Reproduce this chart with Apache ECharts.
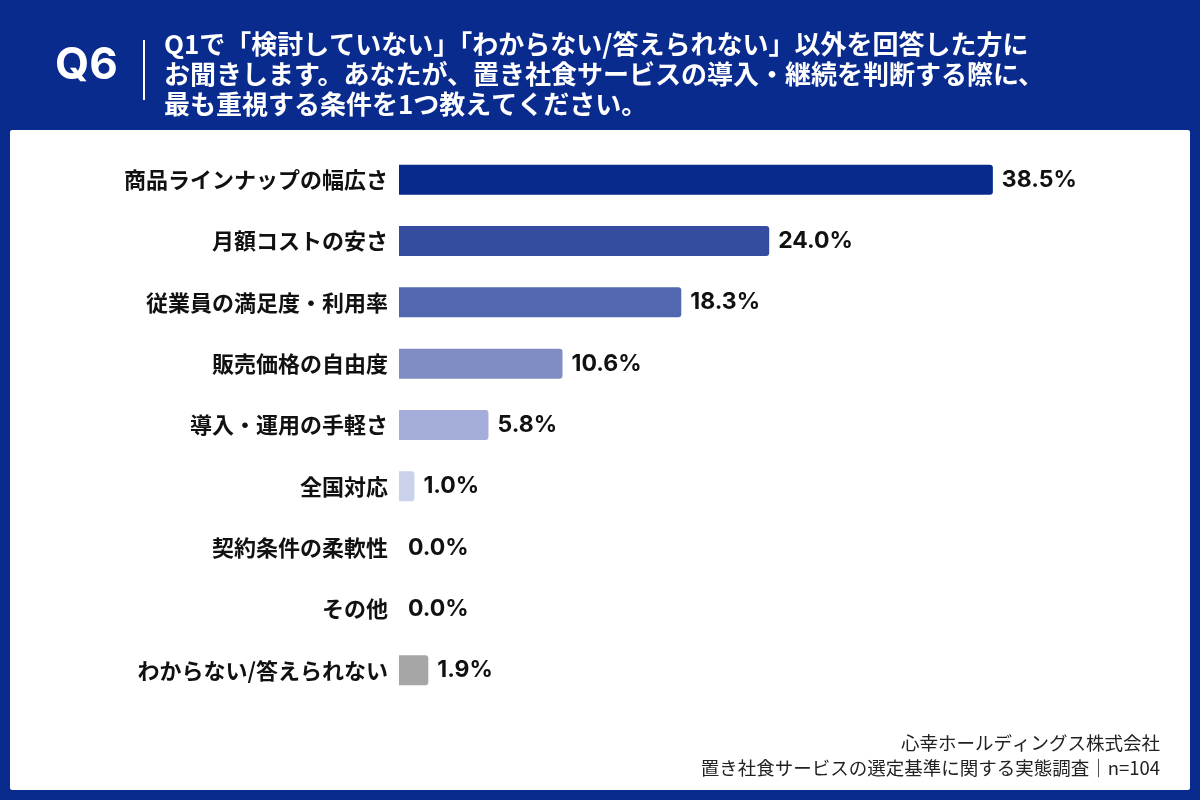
<!DOCTYPE html>
<html>
<head>
<meta charset="utf-8">
<script src="https://cdn.jsdelivr.net/npm/echarts@6/dist/echarts.min.js"></script>
<style>
  html, body { margin: 0; padding: 0; background: #0a2b8e; }
  #chart { width: 1200px; height: 800px; }
</style>
</head>
<body>
<div id="chart"></div>
<script>
// 項目と回答率(%)
var categories = [
    "商品ラインナップの幅広さ",
    "月額コストの安さ",
    "従業員の満足度・利用率",
    "販売価格の自由度",
    "導入・運用の手軽さ",
    "全国対応",
    "契約条件の柔軟性",
    "その他",
    "わからない/答えられない"
];
var values = [38.5, 24.0, 18.3, 10.6, 5.8, 1.0, 0.0, 0.0, 1.9];
var barColors = ["#072a8c", "#344d9f", "#5168b1", "#7f8dc4", "#a4acd9", "#c9d2ea", "#c9d2ea", "#c9d2ea", "#a6a6a6"];

var titleLines = [
    "Q1で「検討していない」「わからない/答えられない」以外を回答した方に",
    "お聞きします。あなたが、置き社食サービスの導入・継続を判断する際に、",
    "最も重視する条件を1つ教えてください。"
];
var footerLines = [
    "心幸ホールディングス株式会社",
    "置き社食サービスの選定基準に関する実態調査｜n=104"
];

var jpFont = '"Noto Sans CJK JP", "Noto Sans", sans-serif';

var chart = echarts.init(document.getElementById("chart"));

// 棒データ（色は項目ごと）
var barData = [];
for (var i = 0; i < values.length; i++) {
    barData.push({
        value: values[i],
        itemStyle: { color: barColors[i] }
    });
}

// ヘッダー・フッターの文字
var graphics = [
    // 白いパネル
    {
        type: "rect",
        shape: { x: 10, y: 130, width: 1180, height: 660, r: 2 },
        style: { fill: "#ffffff" },
        z: -10
    },
    {
        type: "text",
        left: 55, top: 44,
        style: { text: "Q6", fill: "#ffffff", font: 'bold 44px "Inter", "Noto Sans", sans-serif' }
    },
    {
        type: "rect",
        shape: { x: 143, y: 40, width: 2, height: 60 },
        style: { fill: "#ffffff" }
    }
];
titleLines.forEach(function (line, idx) {
    graphics.push({
        type: "text",
        left: 164, top: 31 + idx * 30,
        style: { text: line, fill: "#ffffff", font: "bold 26px " + jpFont }
    });
});
footerLines.forEach(function (line, idx) {
    graphics.push({
        type: "text",
        right: 40, top: 734 + idx * 25,
        style: { text: line, fill: "#222222", font: "18.5px " + jpFont, align: "right" }
    });
});

var option = {
    backgroundColor: "#0a2b8e",
    animation: false,
    graphic: graphics,
    grid: {
        left: 399,
        top: 149,
        width: 617,
        height: 552
    },
    xAxis: {
        type: "value",
        min: 0,
        max: 40,
        show: false
    },
    yAxis: {
        type: "category",
        data: categories,
        inverse: true,
        axisLine: { show: false },
        axisTick: { show: false },
        splitLine: { show: false },
        axisLabel: {
            color: "#111111",
            fontSize: 22,
            fontWeight: "bold",
            fontFamily: jpFont,
            margin: 11
        }
    },
    series: [
        {
            type: "bar",
            data: barData,
            barWidth: 30,
            itemStyle: { borderRadius: [0, 3, 3, 0] },
            label: {
                show: true,
                position: "right",
                distance: 9,
                color: "#111111",
                fontSize: 23,
                fontWeight: "bold",
                fontFamily: '"Inter", "Noto Sans", sans-serif',
                formatter: function (p) {
                    return p.value.toFixed(1) + "%";
                }
            }
        }
    ]
};

chart.setOption(option);
</script>
</body>
</html>
